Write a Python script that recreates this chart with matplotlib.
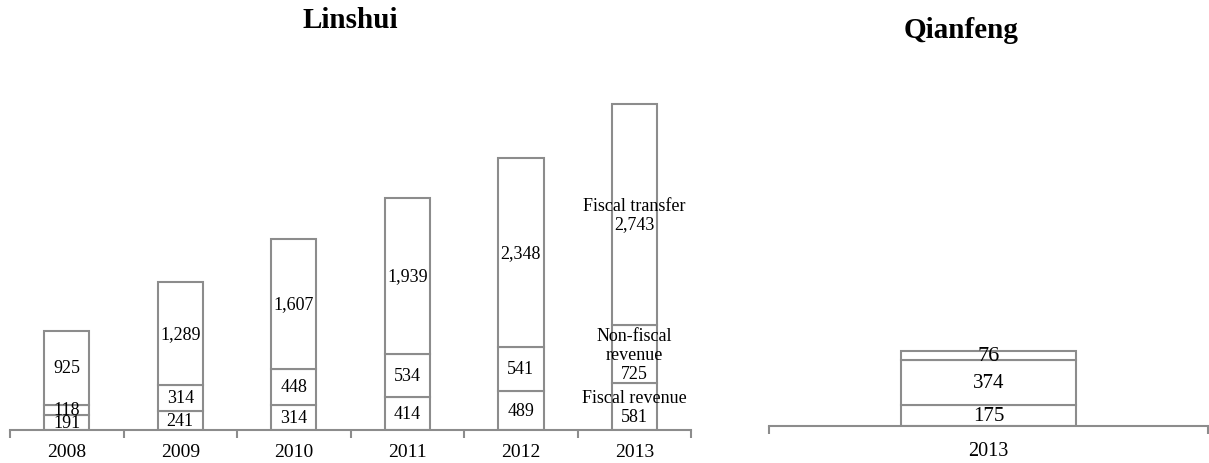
import numpy as np
import matplotlib.pyplot as plt

plt.rcParams['font.family'] = ['Liberation Serif', 'DejaVu Serif']

# Linshui revenue by year
years = ["2008", "2009", "2010", "2011", "2012", "2013"]
fiscal_revenue = [191, 241, 314, 414, 489, 581]
non_fiscal_revenue = [118, 314, 448, 534, 541, 725]
fiscal_transfer = [925, 1289, 1607, 1939, 2348, 2743]

# Qianfeng 2013
q_years = ["2013"]
q_fiscal = [175]
q_non_fiscal = [374]
q_transfer = [76]

edge = "#8c8c8c"

fig = plt.figure(figsize=(12.09, 4.64), dpi=100)

# left panel
ax = fig.add_axes([0.0083, 0.0711, 0.5633, 0.798])
x = np.arange(len(years))
bottoms = np.zeros(len(years))
segments = [fiscal_revenue, non_fiscal_revenue, fiscal_transfer]
names = ["Fiscal revenue", "Non-fiscal\nrevenue", "Fiscal transfer"]
for seg, name in zip(segments, names):
    ax.bar(x, seg, 0.4, bottom=bottoms, color="white", edgecolor=edge, linewidth=1.5)
    for i, v in enumerate(seg):
        txt = f"{v:,}"
        if i == len(years) - 1:
            txt = name + "\n" + txt
        ax.text(x[i], bottoms[i] + v / 2, txt, ha="center", va="center",
                fontsize=13, linespacing=1.15)
    bottoms += np.array(seg)

ax.set_xlim(-0.5, len(years) - 0.5)
ax.set_ylim(0, 4600)
ax.set_xticks(x)
ax.set_xticklabels(years, fontsize=14)
ax.set_xticks(np.arange(-0.5, len(years)), minor=True)
ax.tick_params(axis="x", which="major", length=0, pad=9)
ax.tick_params(axis="x", which="minor", length=6, color=edge, width=1.5)
ax.set_yticks([])
for s in ["top", "right", "left"]:
    ax.spines[s].set_visible(False)
ax.spines["bottom"].set_color(edge)
ax.spines["bottom"].set_linewidth(1.5)

# right panel
ax2 = fig.add_axes([0.636, 0.0797, 0.3631, 0.647])
qx = np.arange(len(q_years))
qb = np.zeros(len(q_years))
for seg, fs in zip([q_fiscal, q_non_fiscal, q_transfer], [15, 15, 16]):
    ax2.bar(qx, seg, 0.4, bottom=qb, color="white", edgecolor=edge, linewidth=1.5)
    for i, v in enumerate(seg):
        ax2.text(qx[i], qb[i] + v / 2, f"{v:,}", ha="center", va="center", fontsize=fs)
    qb += np.array(seg)
ax2.set_xlim(-0.5, 0.5)
ax2.set_ylim(0, 2500)
ax2.set_xticks(qx)
ax2.set_xticklabels(q_years, fontsize=14.5)
ax2.set_xticks([-0.5, 0.5], minor=True)
ax2.tick_params(axis="x", which="major", length=0, pad=11)
ax2.tick_params(axis="x", which="minor", length=6, color=edge, width=1.5)
ax2.set_yticks([])
for s in ["top", "right", "left"]:
    ax2.spines[s].set_visible(False)
ax2.spines["bottom"].set_color(edge)
ax2.spines["bottom"].set_linewidth(1.5)

fig.text(350 / 1209, 1 - 20 / 464, "Linshui", ha="center", va="center",
         fontsize=21, fontweight="bold")
fig.text(961 / 1209, 1 - 30 / 464, "Qianfeng", ha="center", va="center",
         fontsize=21, fontweight="bold")

fig.savefig("out.png", dpi=100)
